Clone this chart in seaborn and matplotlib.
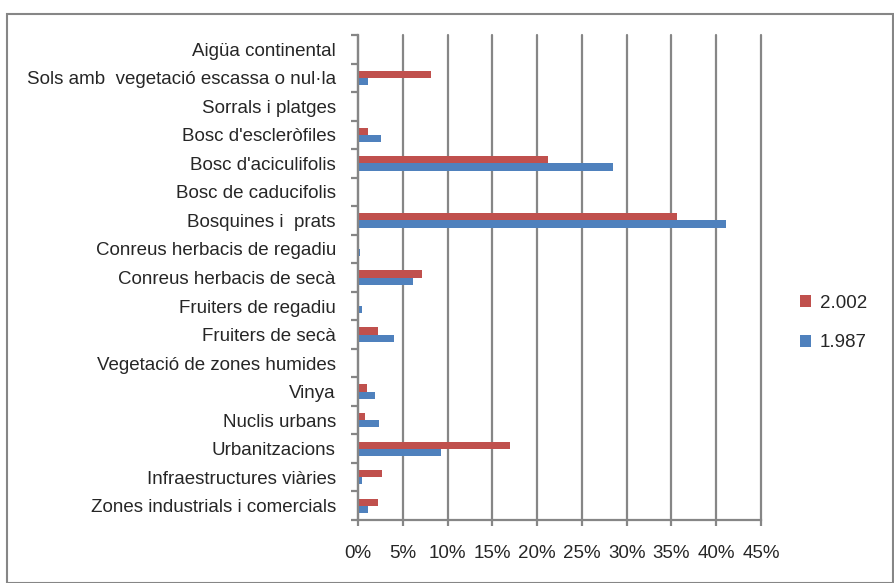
import matplotlib
matplotlib.use("Agg")
import matplotlib.pyplot as plt
import seaborn as sns
import pandas as pd
import numpy as np
from matplotlib.ticker import FuncFormatter, FixedLocator
from matplotlib.patches import Rectangle

categories = [
    "Aigüa continental",
    "Sols amb  vegetació escassa o nul·la",
    "Sorrals i platges",
    "Bosc d'escleròfiles",
    "Bosc d'aciculifolis",
    "Bosc de caducifolis",
    "Bosquines i  prats",
    "Conreus herbacis de regadiu",
    "Conreus herbacis de secà",
    "Fruiters de regadiu",
    "Fruiters de secà",
    "Vegetació de zones humides",
    "Vinya",
    "Nuclis urbans",
    "Urbanitzacions",
    "Infraestructures viàries",
    "Zones industrials i comercials",
]
vals_2002 = [0.0, 8.2, 0.0, 1.15, 21.2, 0.0, 35.6, 0.0, 7.1, 0.0, 2.2, 0.0, 0.95, 0.8, 17.0, 2.7, 2.2]
vals_1987 = [0.0, 1.15, 0.0, 2.6, 28.5, 0.0, 41.1, 0.2, 6.1, 0.4, 4.0, 0.0, 1.85, 2.4, 9.3, 0.4, 1.15]
series_names = ["2.002", "1.987"]
colors = ["#C0504D", "#4F81BD"]

df = pd.DataFrame({
    "cat": categories * 2,
    "val": [v / 100 for v in vals_2002] + [v / 100 for v in vals_1987],
    "year": [series_names[0]] * len(categories) + [series_names[1]] * len(categories),
})

sns.set_style("white")
plt.rcParams["font.family"] = ["Liberation Sans", "DejaVu Sans"]

fig = plt.figure(figsize=(8.94, 5.83), dpi=100)
W, H = 894, 583
fig.patches.append(Rectangle((7 / W, 0), (W - 8) / W, 1 - 14 / H, transform=fig.transFigure,
                             fill=False, edgecolor="#868686", lw=1.5, zorder=0))
ax = fig.add_axes([358 / W, 1 - 520 / H, (761 - 358) / W, (520 - 35) / H])

sns.barplot(data=df, y="cat", x="val", hue="year", hue_order=series_names,
            palette=colors, orient="h", width=0.5, dodge=True, ax=ax,
            order=categories, edgecolor="none", saturation=1)

n = len(categories)
ax.set_ylim(n - 0.5, -0.5)
ax.set_xlim(0, 0.45)
ax.set_xticks(np.arange(0, 0.451, 0.05))
ax.xaxis.set_major_formatter(FuncFormatter(lambda v, p: f"{v*100:.0f}%"))
ax.set_xlabel("")
ax.set_ylabel("")

gc = "#868686"
ax.grid(axis="x", color=gc, lw=1.6)
for gl in ax.get_xgridlines():
    gl.set_clip_on(False)
ax.set_axisbelow(True)
for s in ["top", "right"]:
    ax.spines[s].set_visible(False)
for s in ["left", "bottom"]:
    ax.spines[s].set_color(gc)
    ax.spines[s].set_linewidth(1.6)

fs = 13.5
ax.yaxis.set_minor_locator(FixedLocator(np.arange(-0.5, n, 1.0)))
ax.tick_params(axis="y", which="major", length=0, pad=16, labelsize=fs)
ax.tick_params(axis="y", which="minor", length=5, width=1.6, color=gc, left=True)
ax.tick_params(axis="x", which="major", length=4.3, width=1.6, color=gc, pad=14, labelsize=fs, bottom=True)

leg = ax.legend(loc="center left", bbox_to_anchor=(783 / W, 1 - 323 / H),
                bbox_transform=fig.transFigure, frameon=False, fontsize=fs,
                handlelength=0.6, handleheight=0.6, handletextpad=0.45, labelspacing=1.2)

fig.savefig("out.png", dpi=100)
